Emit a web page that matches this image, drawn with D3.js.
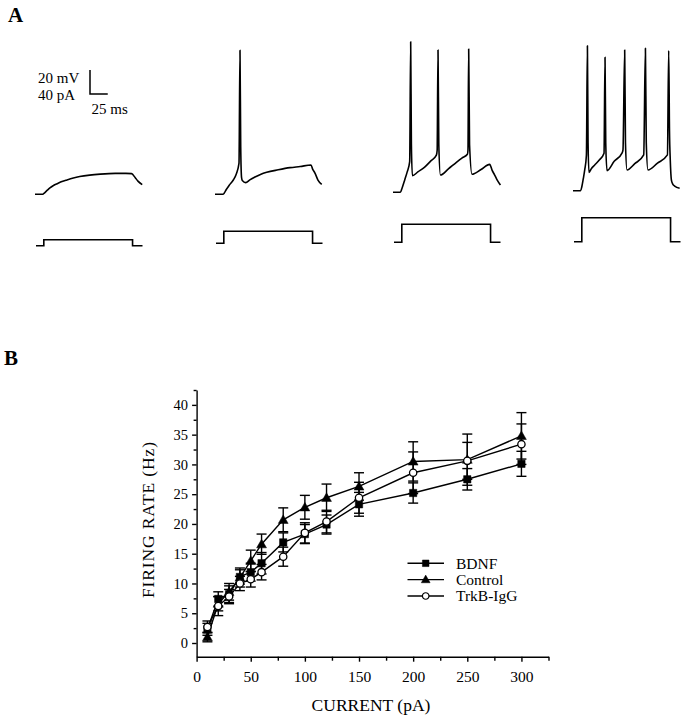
<!DOCTYPE html>
<html><head><meta charset="utf-8">
<script src="https://cdn.jsdelivr.net/npm/d3@7"></script>
<style>
html,body{margin:0;padding:0;background:#fff;}
svg{display:block;}
</style></head>
<body>
<svg id="fig" width="688" height="720" font-family="Liberation Serif, Times New Roman, serif"></svg>
<script>
// ---------- Panel B data ----------
const currents = [10, 20, 30, 40, 50, 60, 80, 100, 120, 150, 200, 250, 300];
const bdnfRate    = [2.3, 7.4, 8.2, 11.1, 11.9, 13.4, 16.9, 18.3, 19.9, 23.3, 25.2, 27.5, 30.1];
const bdnfSem     = [1.0, 1.2, 1.4, 1.2, 1.5, 1.8, 1.6, 1.6, 1.6, 2.0, 1.7, 1.8, 2.1];
const controlRate = [1.0, 6.6, 8.6, 11.0, 13.8, 16.6, 20.7, 22.8, 24.4, 26.3, 30.5, 30.8, 34.8];
const controlSem  = [0.8, 1.2, 1.4, 1.6, 1.8, 1.7, 2.0, 2.0, 2.3, 2.3, 3.3, 4.3, 3.9];
const trkbRate    = [2.7, 6.2, 7.8, 10.0, 10.7, 11.9, 14.5, 18.5, 20.4, 24.4, 28.6, 30.6, 33.4];
const trkbSem     = [1.0, 1.6, 1.2, 1.2, 1.3, 1.3, 1.6, 1.7, 1.9, 2.6, 3.5, 3.1, 3.4];
const seriesNames = ["BDNF", "Control", "TrkB-IgG"];
const yTickValues = [0, 5, 10, 15, 20, 25, 30, 35, 40];
const xTickValues = [0, 50, 100, 150, 200, 250, 300];

// ---------- Panel A data: [time ms, membrane potential mV relative to rest] ----------
const trace1 = [[0,0],[11,0],[13,1],[17,3.2],[21,5.3],[26,7.3],[32,9],[38,10.6],[45,12],[54,13.6],[63,14.8],[77,16],[92,16.8],[113,17.4],[128,17.4],[136,17.2],[141,14],[145,11],[151,8]];
const trace2 = [[0,0],[11,0],[13,1],[15.5,3.6],[20,7.5],[25.8,11.9],[30,17],[33.8,26],[35.2,120],[36.2,40],[37.4,14],[38.5,11.5],[43.2,9.7],[49,12],[56.3,14.4],[64,16.5],[72.8,18.3],[89,20.4],[105.6,22.2],[120,23.2],[135.2,24.4],[137.5,21],[140.8,17.7],[145,11.9],[150.3,8.3]];
const trace3 = [[0,0],[10.4,0],[12.5,3],[16.5,10.3],[20,17],[23.5,25.5],[24.9,125.5],[25.9,40],[27.3,13.8],[35,17],[44.6,21],[53,26],[61.1,31],[62.2,35],[63.4,118.6],[64.5,40],[66.8,14.4],[78,19.5],[89.3,25],[97,28.5],[104.8,31.7],[105.6,35],[106.6,119.4],[107.8,40],[111.3,15],[124,19],[136.2,23.3],[139.5,18.5],[143.2,14.4],[147,10],[151.3,6.1]];
const trace4 = [[0,0],[10.8,0],[12.5,3.5],[14.5,10],[16.5,17.3],[18.9,29.8],[20.3,120.8],[21.2,40],[22.5,15.3],[26,18.5],[30.6,21.4],[37,25.5],[43.7,31.2],[45.1,111.2],[46.1,40],[47.9,16.7],[58,24.5],[69.2,31.5],[70.4,34],[72.8,117.3],[73.9,40],[76.1,17.3],[87,22.5],[99.6,29.8],[102,118.7],[103.2,40],[105.6,17.3],[119,23],[133,29.8],[134.8,116.7],[135.9,50],[137,25.6],[138.6,8.9],[140.5,5.5],[143.2,3.9],[150.2,2]];
const voltageTraces = [trace1, trace2, trace3, trace4];
const stepCurrents = [10, 20, 30, 40];      // pA
const stepTiming = [0, 11, 136, 150];        // ms: start, step on, step off, end

// ---------- drawing ----------
const svg = d3.select("#fig");
const font = "Liberation Serif, Times New Roman, serif";

// Panel labels
svg.append("text").attr("x", 8).attr("y", 22).attr("font-size", 21).attr("font-weight", "bold").text("A");
svg.append("text").attr("x", 4).attr("y", 365).attr("font-size", 21).attr("font-weight", "bold").text("B");

// Panel A scales (relative, per trace origin)
const tScale = d3.scaleLinear().domain([0, 100]).range([0, 71]);
const vScale = d3.scaleLinear().domain([0, 100]).range([0, -120]);
const iScale = d3.scaleLinear().domain([0, 100]).range([0, -60]);

const traceX0 = [35, 215, 393, 573];
const traceV0 = [194.3, 194.3, 192.3, 190.7];
const traceI0 = [245.7, 243.3, 242.3, 241.7];

const vLine = d3.line().x(d => tScale(d[0])).y(d => vScale(d[1])).curve(d3.curveMonotoneX);
const iLine = d3.line().x(d => tScale(d[0])).y(d => iScale(d[1]));

voltageTraces.forEach((tr, k) => {
  svg.append("path")
    .attr("transform", `translate(${traceX0[k]},${traceV0[k]})`)
    .attr("d", vLine(tr))
    .attr("fill", "none").attr("stroke", "#000").attr("stroke-width", 1.6)
    .attr("stroke-linejoin", "round");
  const I = stepCurrents[k];
  const step = [[stepTiming[0],0],[stepTiming[1],0],[stepTiming[1],I],[stepTiming[2],I],[stepTiming[2],0],[stepTiming[3],0]];
  svg.append("path")
    .attr("transform", `translate(${traceX0[k] + 1},${traceI0[k]})`)
    .attr("d", iLine(step))
    .attr("fill", "none").attr("stroke", "#000").attr("stroke-width", 1.6);
});

// scale bar
const sbX = 90, sbY = 94;
svg.append("path")
  .attr("d", `M${sbX},${sbY + vScale(20)}V${sbY}H${sbX + tScale(25)}`)
  .attr("fill", "none").attr("stroke", "#000").attr("stroke-width", 1.5);
svg.append("text").attr("x", 38).attr("y", 82.5).attr("font-size", 15).text("20 mV");
svg.append("text").attr("x", 38).attr("y", 100).attr("font-size", 15).text("40 pA");
svg.append("text").attr("x", 91.5).attr("y", 113.5).attr("font-size", 15).text("25 ms");

// ---------- Panel B ----------
const x = d3.scaleLinear().domain([0, 325]).range([196.6, 548.5]);
const y = d3.scaleLinear().domain([-2.3, 42.5]).range([656.7, 390]);

const gx = svg.append("g").attr("transform", `translate(0,${y(-2.3)})`);
gx.call(d3.axisBottom(x).tickValues(xTickValues).tickSize(5).tickSizeOuter(0).tickPadding(9.5));
const gxm = svg.append("g").attr("transform", `translate(0,${y(-2.3)})`);
gxm.call(d3.axisBottom(x).tickValues(d3.range(25, 326, 50)).tickSize(4).tickFormat(""));
gxm.select(".domain").remove();

const gy = svg.append("g").attr("transform", `translate(${x(0)},0)`);
gy.call(d3.axisLeft(y).tickValues(yTickValues).tickSize(4.5).tickSizeOuter(0).tickPadding(4));
const gym = svg.append("g").attr("transform", `translate(${x(0)},0)`);
gym.call(d3.axisLeft(y).tickValues(d3.range(2.5, 42.6, 5)).tickSize(3).tickFormat(""));
gym.select(".domain").remove();

[gx, gxm, gy, gym].forEach(g => g.attr("font-family", font).attr("font-size", 15));
svg.selectAll(".tick text").attr("font-family", font).attr("font-size", 15.5).attr("fill", "#000");
gy.selectAll(".tick text").attr("font-size", 14.5);
svg.selectAll(".domain, .tick line").attr("stroke", "#000").attr("stroke-width", 1.4);

svg.append("text").attr("x", 371).attr("y", 711).attr("text-anchor", "middle")
  .attr("font-size", 17.5).text("CURRENT (pA)");
svg.append("text").attr("transform", "translate(154,520) rotate(-90)").attr("text-anchor", "middle")
  .attr("font-size", 17.5).attr("textLength", 156).attr("lengthAdjust", "spacing").text("FIRING RATE (Hz)");

const series = [
  {name: seriesNames[0], rate: bdnfRate, sem: bdnfSem, sym: d3.symbolSquare, size: 54, fill: "#000"},
  {name: seriesNames[1], rate: controlRate, sem: controlSem, sym: d3.symbolTriangle, size: 42, fill: "#000"},
  {name: seriesNames[2], rate: trkbRate, sem: trkbSem, sym: d3.symbolCircle, size: 42, fill: "#fff"}
];

const cap = 5;
// error bars
series.forEach(s => {
  const g = svg.append("g").attr("stroke", "#000").attr("stroke-width", 1.4);
  currents.forEach((c, i) => {
    const cx = x(c), lo = y(s.rate[i] - s.sem[i]), hi = y(s.rate[i] + s.sem[i]);
    g.append("line").attr("x1", cx).attr("x2", cx).attr("y1", lo).attr("y2", hi);
    g.append("line").attr("x1", cx - cap).attr("x2", cx + cap).attr("y1", lo).attr("y2", lo);
    g.append("line").attr("x1", cx - cap).attr("x2", cx + cap).attr("y1", hi).attr("y2", hi);
  });
});
// lines
const line = d3.line().x(d => x(d[0])).y(d => y(d[1]));
series.forEach(s => {
  svg.append("path").attr("d", line(currents.map((c, i) => [c, s.rate[i]])))
    .attr("fill", "none").attr("stroke", "#000").attr("stroke-width", 1.4);
});
// markers
series.forEach(s => {
  const sym = d3.symbol().type(s.sym).size(s.size);
  svg.append("g").selectAll("path").data(currents).join("path")
    .attr("transform", (c, i) => `translate(${x(c)},${y(s.rate[i]) + (s.sym === d3.symbolTriangle ? 0.8 : 0)})`)
    .attr("d", sym())
    .attr("fill", s.fill).attr("stroke", "#000").attr("stroke-width", s.fill === "#fff" ? 1.3 : 0.5);
});

// legend
const legY = [563.3, 579.6, 596];
series.forEach((s, k) => {
  const ly = legY[k];
  svg.append("line").attr("x1", 407.5).attr("x2", 444).attr("y1", ly).attr("y2", ly)
    .attr("stroke", "#000").attr("stroke-width", 1.4);
  svg.append("path").attr("transform", `translate(425.7,${ly + (s.sym === d3.symbolTriangle ? 0.6 : 0)})`)
    .attr("d", d3.symbol().type(s.sym).size(s.size * 0.8)())
    .attr("fill", s.fill).attr("stroke", "#000").attr("stroke-width", s.fill === "#fff" ? 1.2 : 0.5);
  svg.append("text").attr("x", 456).attr("y", ly + 5.3).attr("font-size", 15.5).text(s.name);
});
</script>
</body></html>
